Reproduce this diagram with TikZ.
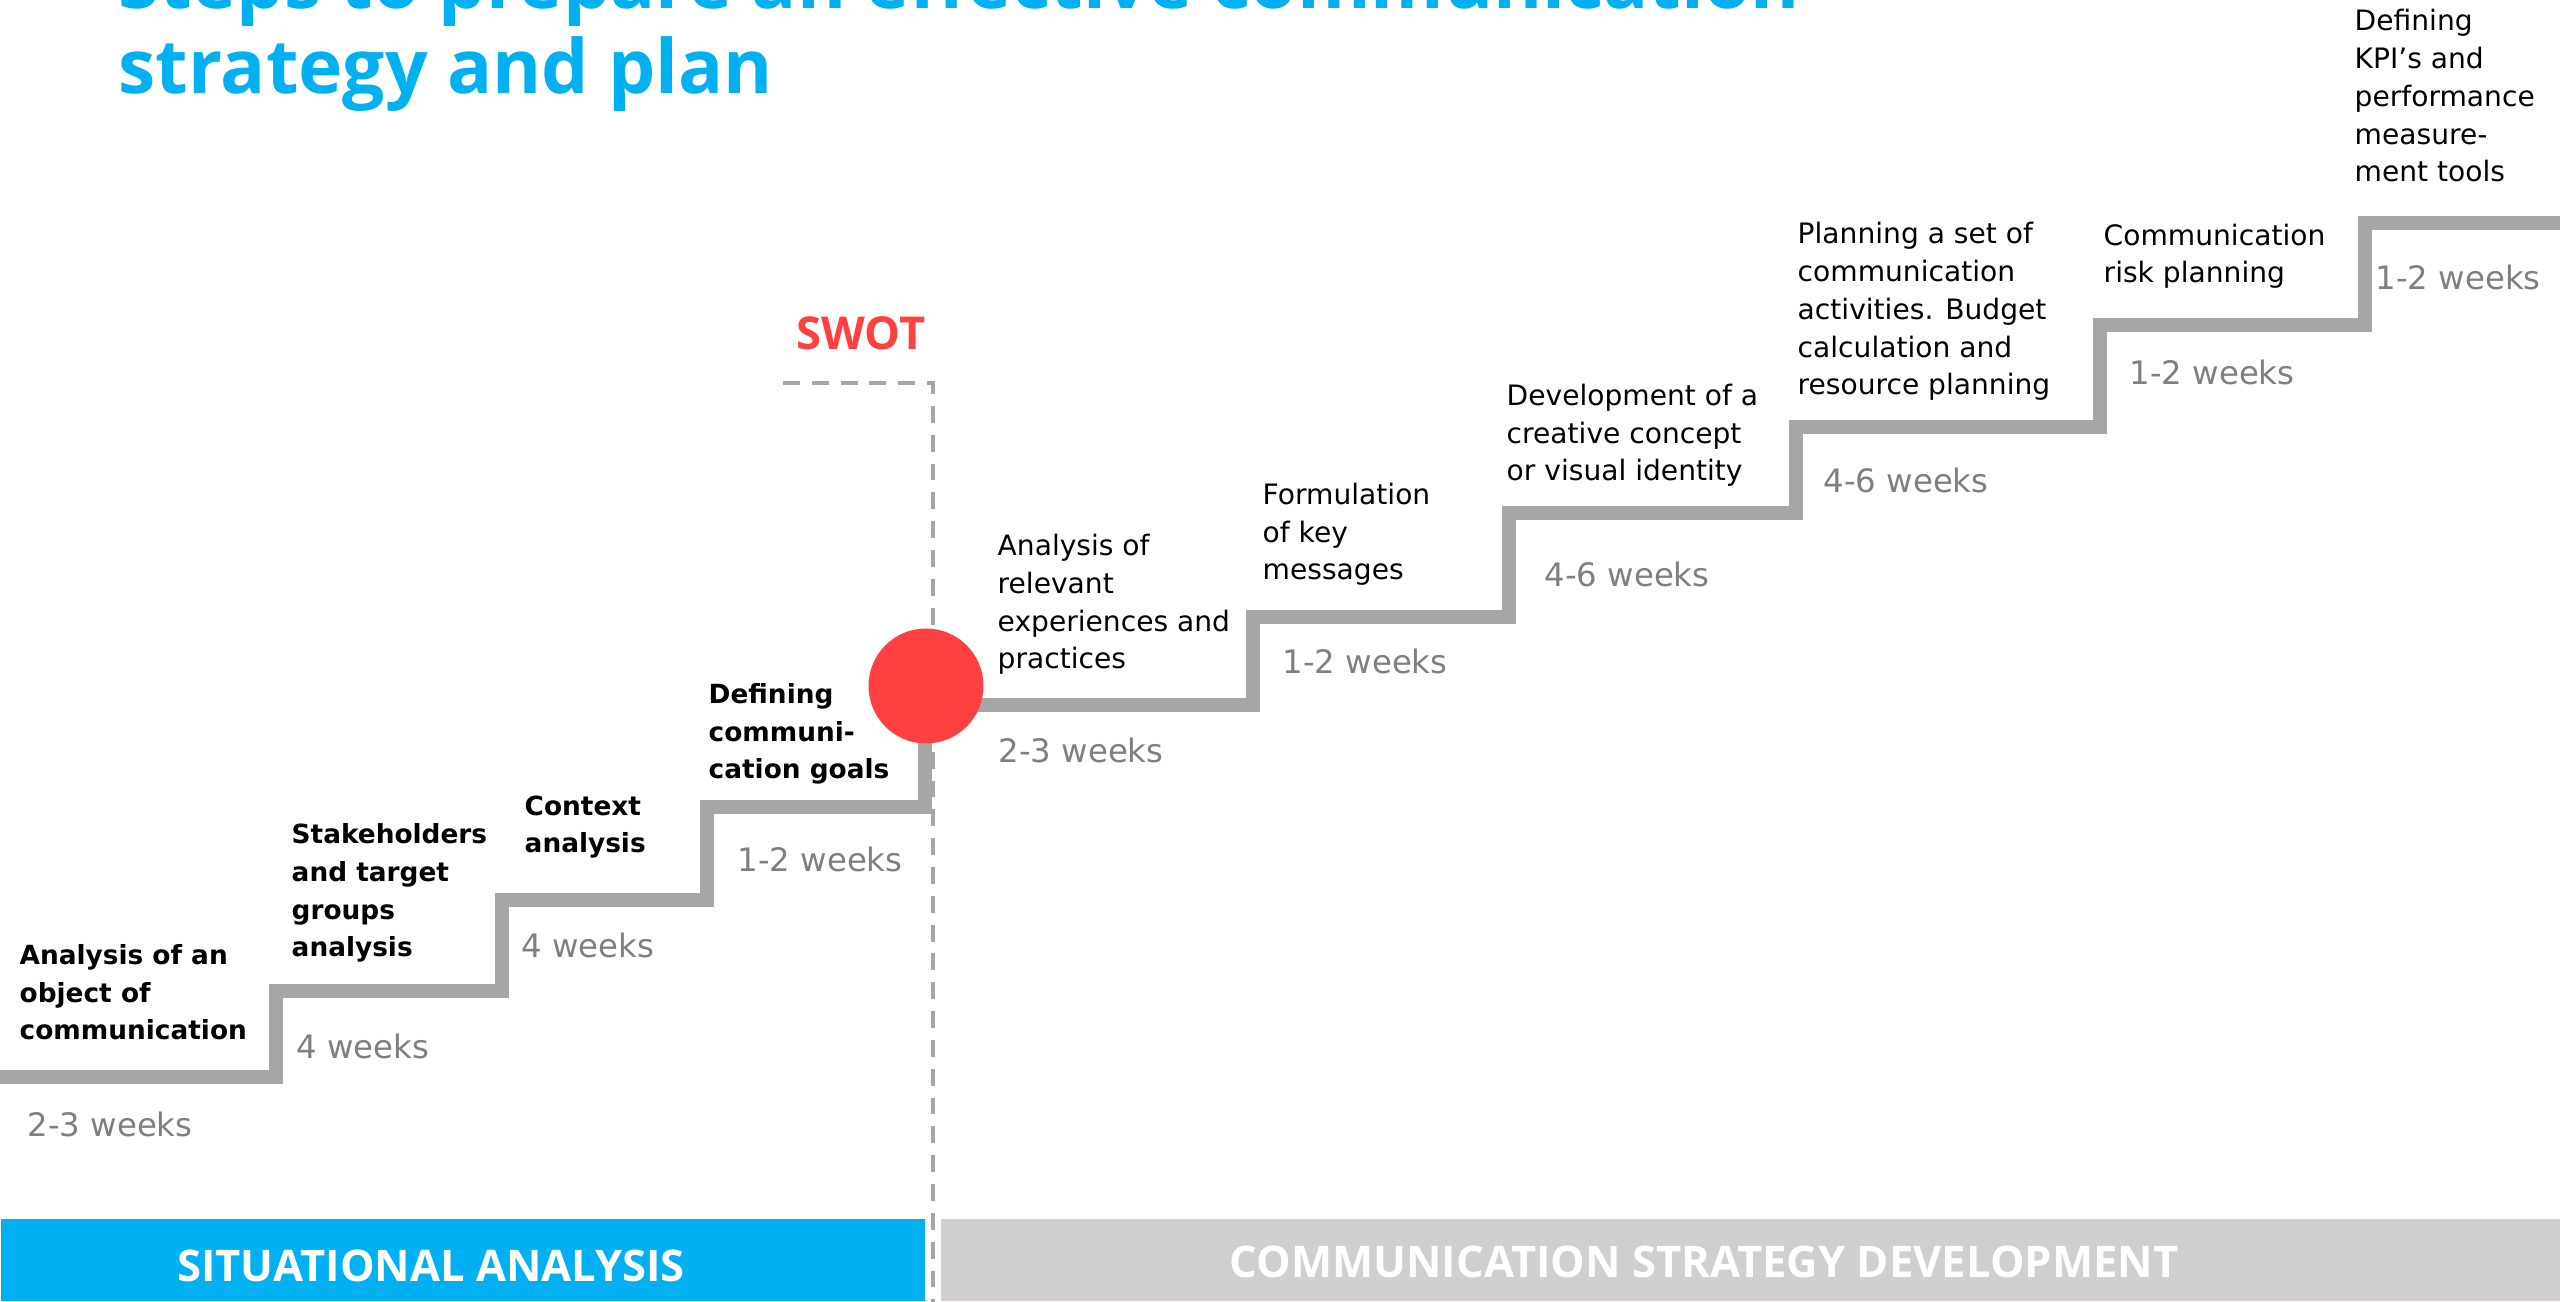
\documentclass[tikz,border=0pt]{standalone}
\usepackage{fontspec}
\setmainfont{DejaVu Sans}
\newfontfamily\headfont{Open Sans}
\usetikzlibrary{shapes,arrows,positioning,calc}

\definecolor{titleblue}{HTML}{00B0F0}
\definecolor{swotred}{HTML}{FF4040}
\definecolor{stairgray}{HTML}{A6A6A6}
\definecolor{weekgray}{HTML}{7F7F7F}
\definecolor{bargray}{HTML}{D0CECE}

\begin{document}
\begin{tikzpicture}[
  stair/.style={draw=stairgray, line width=4.2pt, line join=miter},
  taskb/.style={anchor=base west, inner sep=0, align=left, font=\fontsize{7.5}{10.8}\selectfont\bfseries},
  taskn/.style={anchor=base west, inner sep=0, align=left, font=\fontsize{8}{10.8}\selectfont},
  weeks/.style={anchor=base west, inner sep=0, text=weekgray, font=\fontsize{9.2}{11}\selectfont},
  bar/.style={anchor=south west, minimum height=0.82cm, inner sep=0},
  bartext/.style={inner sep=0, text=white, font=\headfont\bfseries\fontsize{12.4}{14}\selectfont}
]
\useasboundingbox (0,0) rectangle (25.6,13.02);
\clip (0,0) rectangle (25.6,13.02);

% Titel (base = letzte Zeile)
\node[anchor=base west, inner sep=0, align=left, text=titleblue,
  font=\headfont\bfseries\fontsize{21.3}{24.4}\selectfont] (title) at (1.18,12.08)
  {Steps to prepare an effective communication\\strategy and plan};

% Phasen
\node[bar, fill=titleblue, minimum width=9.24cm] (sitbar) at (0,0) {};
\node[bar, fill=bargray, minimum width=16.3cm] (stratbar) at (9.40,0) {};
\node[bartext] (sitlabel) at (4.31,0.36) {SITUATIONAL ANALYSIS};
\node[bartext] (stratlabel) at (17.04,0.40) {COMMUNICATION STRATEGY DEVELOPMENT};

% SWOT
\coordinate (swotl) at (7.83,9.19);
\coordinate (swotc) at (9.33,9.19);
\coordinate (swotb) at (9.33,-0.1);
\draw[stairgray, line width=1.1pt, dash pattern=on 4.8pt off 3.4pt] (swotl) -- (swotc) -- (swotb);
\node[inner sep=0, text=swotred, font=\headfont\bfseries\fontsize{12.9}{14}\selectfont] (swot) at (8.61,9.69) {SWOT};

% Treppe
\coordinate (p0) at (-0.1,2.25);
\coordinate (p1) at (2.76,3.11);
\coordinate (p2) at (5.02,4.02);
\coordinate (p3) at (7.07,4.95);
\coordinate (p4) at (9.25,5.97);
\coordinate (p5) at (12.53,6.85);
\coordinate (p6) at (15.09,7.89);
\coordinate (p7) at (17.96,8.75);
\coordinate (p8) at (21.00,9.77);
\coordinate (p9) at (23.65,10.79);
\coordinate (p10) at (25.7,10.79);
\draw[stair] (p0) -| (p1) -| (p2) -| (p3) -| (p4) -| (p5) -| (p6) -| (p7) -| (p8) -| (p9) -- (p10);
\node[circle, fill=swotred, minimum size=1.15cm, inner sep=0] (dot) at (9.26,6.16) {};

% Schritte (base = letzte Zeile)
\node[taskb] (t1) at (0.19,2.62) {Analysis of an\\object of\\communication};
\node[taskb] (t2) at (2.91,3.45) {Stakeholders\\and target\\groups\\analysis};
\node[taskb] (t3) at (5.24,4.49) {Context\\analysis};
\node[taskb] (t4) at (7.08,5.23) {Defining\\communi-\\cation goals};
\node[taskn] (t5) at (9.97,6.33) {Analysis of\\relevant\\experiences and\\practices};
\node[taskn] (t6) at (12.62,7.22) {Formulation\\of key\\messages};
\node[taskn] (t7) at (15.06,8.21) {Development of a\\creative concept\\or visual identity};
\node[taskn] (t8) at (17.97,9.07) {Planning a set of\\communication\\activities. Budget\\calculation and\\resource planning};
\node[taskn] (t9) at (21.03,10.19) {Communication\\risk planning};
\node[taskn] (t10) at (23.54,11.20) {Defining\\KPI’s and\\performance\\measure-\\ment tools};

% Dauer
\node[weeks] (w1) at (0.27,1.65) {2-3 weeks};
\node[weeks] (w2) at (2.96,2.43) {4 weeks};
\node[weeks] (w3) at (5.21,3.44) {4 weeks};
\node[weeks] (w4) at (7.37,4.30) {1-2 weeks};
\node[weeks] (w5) at (9.98,5.39) {2-3 weeks};
\node[weeks] (w6) at (12.82,6.28) {1-2 weeks};
\node[weeks] (w7) at (15.44,7.15) {4-6 weeks};
\node[weeks] (w8) at (18.23,8.09) {4-6 weeks};
\node[weeks] (w9) at (21.29,9.17) {1-2 weeks};
\node[weeks] (w10) at (23.75,10.12) {1-2 weeks};
\end{tikzpicture}
\end{document}
